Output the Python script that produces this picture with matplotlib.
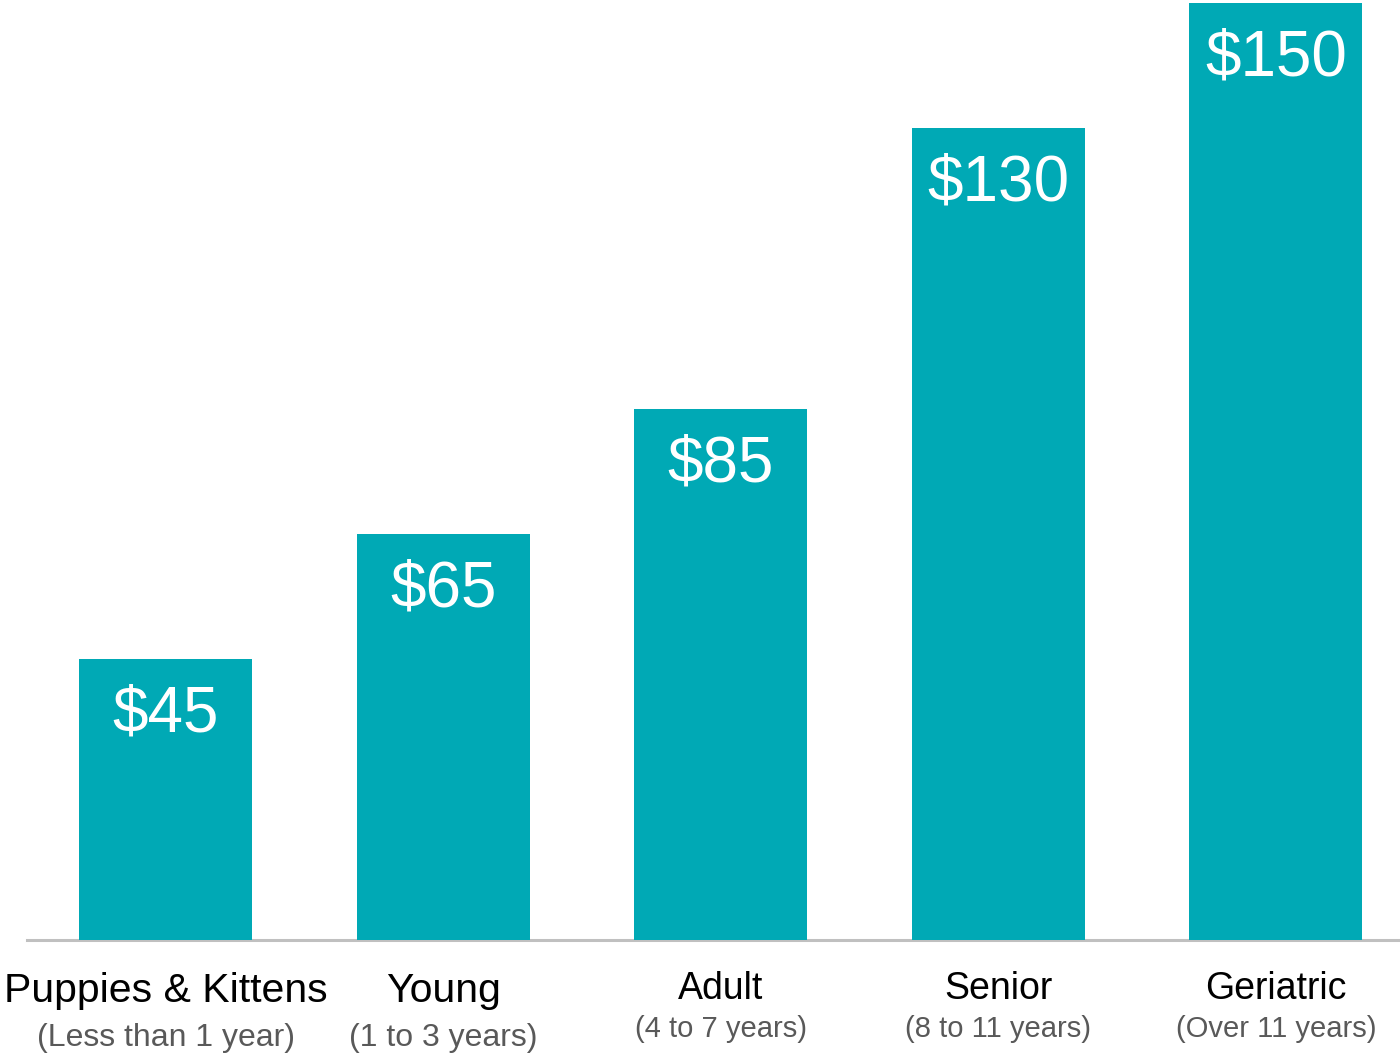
import matplotlib.pyplot as plt

plt.rcParams['font.family'] = ['Liberation Sans', 'DejaVu Sans']

categories = ["Puppies & Kittens", "Young", "Adult", "Senior", "Geriatric"]
subtitles = ["(Less than 1 year)", "(1 to 3 years)", "(4 to 7 years)",
             "(8 to 11 years)", "(Over 11 years)"]
prices = [45, 65, 85, 130, 150]

bar_color = "#00A9B5"

fig = plt.figure(figsize=(14, 10.57), dpi=100)
ax = fig.add_axes([27 / 1400, 117 / 1057, 1373 / 1400, 940 / 1057])

x = list(range(len(categories)))
ax.bar(x, prices, width=0.623, color=bar_color, zorder=2)

ax.set_xlim(-0.5, 4.447)
ax.set_ylim(0, 150.4)

for side in ["top", "right", "left"]:
    ax.spines[side].set_visible(False)
ax.spines["bottom"].set_color("#C0C0C0")
ax.spines["bottom"].set_linewidth(2.2)
ax.spines["bottom"].set_zorder(1)
ax.set_xticks([])
ax.set_yticks([])

# value labels inside the bars
for i, v in enumerate(prices):
    ax.annotate(f"${v}", xy=(i, v), xytext=(0, -52.5), textcoords="offset points",
                ha="center", va="baseline", fontsize=46, color="white")

# category labels: first two are drawn wider in the original
for i, (name, sub) in enumerate(zip(categories, subtitles)):
    if i < 2:
        t_size, s_size, t_off, s_off = 29.5, 23, 44.7, 76.4
    else:
        t_size, s_size, t_off, s_off = 27, 21, 42.5, 69.8
    ax.annotate(name, xy=(i, 0), xytext=(0, -t_off), textcoords="offset points",
                ha="center", va="baseline", fontsize=t_size, color="black",
                annotation_clip=False)
    ax.annotate(sub, xy=(i, 0), xytext=(0, -s_off), textcoords="offset points",
                ha="center", va="baseline", fontsize=s_size, color="#595959",
                annotation_clip=False)

fig.savefig("out.png", dpi=100)
